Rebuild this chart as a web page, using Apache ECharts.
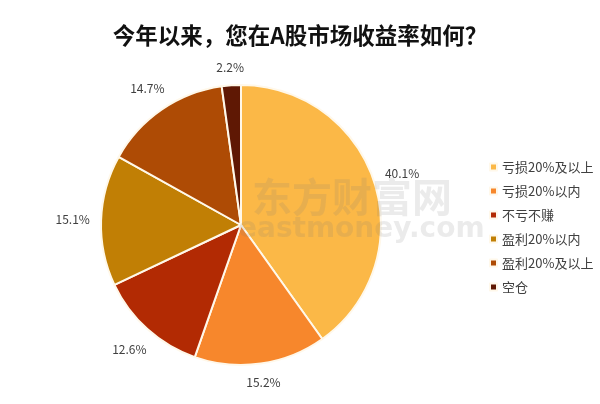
<!DOCTYPE html>
<html>
<head>
<meta charset="utf-8">
<script src="https://cdn.jsdelivr.net/npm/echarts@6/dist/echarts.min.js"></script>
<style>
  html, body { margin: 0; padding: 0; background: #fff; }
  #chart { width: 600px; height: 404px; }
</style>
</head>
<body>
<div id="chart"></div>
<script>
// Survey answers (share of respondents, %)
var categories = ['亏损20%及以上', '亏损20%以内', '不亏不赚', '盈利20%以内', '盈利20%及以上', '空仓'];
var shares = [40.1, 15.2, 12.6, 15.1, 14.7, 2.2];
var sliceColors = ['#FBB847', '#F7872C', '#B22A03', '#C17F05', '#AE4B05', '#5F1804'];

var fontCN = '"Noto Sans CJK SC", "Microsoft YaHei", sans-serif';
var pieCenter = [241, 225];
var pieRadius = 140;
var labelGap = 11;

document.addEventListener('DOMContentLoaded', function() {
    var chart = echarts.init(document.getElementById('chart'), null, {renderer: 'canvas'});

    var pieData = categories.map(function(name, i) {
        return {name: name, value: shares[i], itemStyle: {color: sliceColors[i]}};
    });
    // same values, used only to place the percentage labels just outside the pie
    var labelData = categories.map(function(name, i) {
        return {name: name, value: shares[i]};
    });

    // push every label out along its slice's middle so its box sits a fixed gap from the rim
    var placeLabel = function(params) {
        var r = params.labelRect;
        var cx = r.x + r.width / 2 - pieCenter[0];
        var cy = r.y + r.height / 2 - pieCenter[1];
        var len = Math.sqrt(cx * cx + cy * cy) || 1;
        var dx = cx / len, dy = cy / len;
        var dist = pieRadius + labelGap + r.width / 2 * Math.abs(dx) + r.height / 2 * Math.abs(dy);
        return {
            x: pieCenter[0] + dx * dist,
            y: pieCenter[1] + dy * dist,
            align: 'center',
            verticalAlign: 'middle'
        };
    };

    var option = {
        backgroundColor: '#fff',
        animation: false,
        textStyle: {fontFamily: fontCN},
        title: {
            text: '今年以来，您在A股市场收益率如何？',
            left: 'center',
            top: 19,
            textStyle: {
                fontFamily: fontCN,
                fontSize: 22.5,
                fontWeight: 'bold',
                color: '#111'
            }
        },
        legend: {
            orient: 'vertical',
            left: 484,
            top: 155,
            icon: 'rect',
            itemWidth: 7,
            itemHeight: 7,
            itemGap: 10,
            data: categories,
            textStyle: {
                fontFamily: fontCN,
                fontSize: 13,
                lineHeight: 14,
                color: '#404040'
            }
        },
        // watermark
        graphic: [
            {
                type: 'text',
                left: 252,
                top: 177,
                silent: true,
                z: 100,
                style: {
                    text: '东方财富网',
                    font: 'bold 40px "Noto Sans CJK SC", sans-serif',
                    fill: 'rgba(120,120,120,0.15)'
                }
            },
            {
                type: 'text',
                left: 238,
                top: 216,
                silent: true,
                z: 100,
                style: {
                    text: 'eastmoney.com',
                    font: 'bold 28px "DejaVu Sans", sans-serif',
                    fill: 'rgba(120,120,120,0.15)'
                }
            }
        ],
        series: [
            {
                name: '收益率',
                type: 'pie',
                center: pieCenter,
                radius: pieRadius,
                startAngle: 90,
                clockwise: true,
                label: {show: false},
                labelLine: {show: false},
                itemStyle: {borderColor: '#fff8ea', borderWidth: 2},
                emphasis: {disabled: true},
                data: pieData
            },
            {
                name: '标签',
                type: 'pie',
                center: pieCenter,
                radius: [150, 182],
                startAngle: 90,
                clockwise: true,
                silent: true,
                legendHoverLink: false,
                itemStyle: {color: 'rgba(0,0,0,0)'},
                emphasis: {disabled: true},
                label: {
                    show: true,
                    position: 'inside',
                    formatter: '{c}%',
                    fontFamily: fontCN,
                    fontSize: 12,
                    color: '#404040'
                },
                labelLine: {show: false},
                labelLayout: placeLabel,
                data: labelData
            }
        ]
    };

    chart.setOption(option);
});
</script>
</body>
</html>
